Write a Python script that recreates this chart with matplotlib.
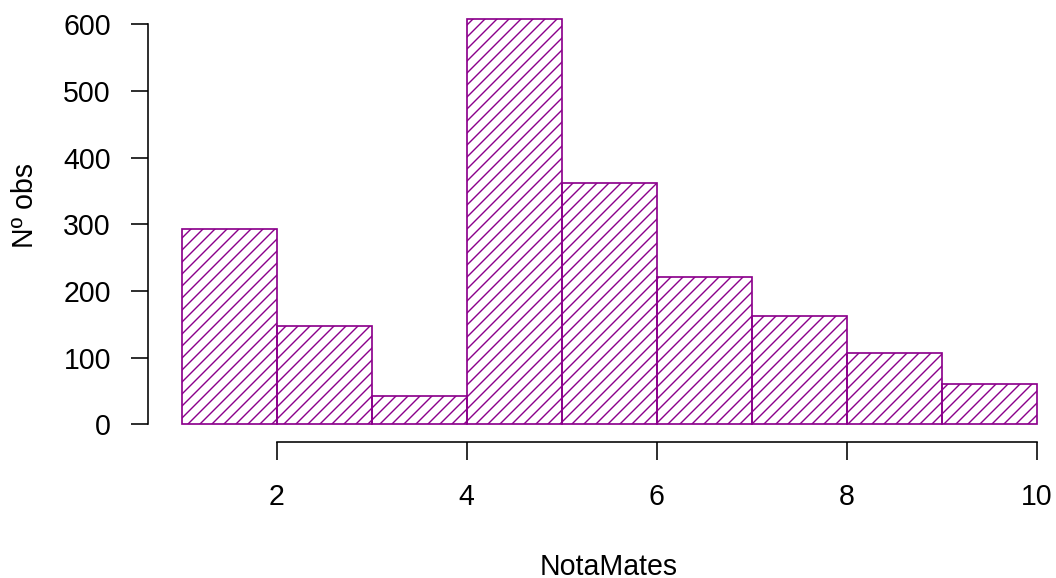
import numpy as np
import matplotlib
matplotlib.use("Agg")
import matplotlib.pyplot as plt

# histogram of NotaMates, bins of width 1 from 1 to 10
bin_left = [1, 2, 3, 4, 5, 6, 7, 8, 9]
counts = [293, 148, 42, 608, 362, 221, 163, 107, 61]
xticks = [2, 4, 6, 8, 10]
yticks = [0, 100, 200, 300, 400, 500, 600]

purple = "#8B008B"
plt.rcParams["font.family"] = ["Liberation Sans", "DejaVu Sans"]
plt.rcParams["hatch.color"] = purple
plt.rcParams["hatch.linewidth"] = 1.4

# 72 dpi so that one hatch cell = 72 px -> '//' gives a line every 12 px
fig = plt.figure(figsize=(1056 / 72, 578 / 72), dpi=72)
ax = fig.add_axes([147.5 / 1056, (578 - 441.8) / 578, 923.5 / 1056, 468.2 / 578])

ax.bar(bin_left, counts, width=1, align="edge", facecolor="none",
       edgecolor=purple, linewidth=1.7, hatch="//")

ax.set_xlim(0.64, 10.36)
ax.set_ylim(-26, 676)

for s in ["top", "right"]:
    ax.spines[s].set_visible(False)
ax.spines["left"].set_bounds(0, 600)
ax.spines["bottom"].set_bounds(2, 10)
for s in ["left", "bottom"]:
    ax.spines[s].set_linewidth(1.6)

ax.set_xticks(xticks)
ax.set_yticks(yticks)
ax.tick_params(axis="both", direction="out", length=17.5, width=1.6, labelsize=28.5)
ax.tick_params(axis="x", pad=23.5)
ax.tick_params(axis="y", pad=19)

fig.text(608.7 / 1056, 1 - 575 / 578, "NotaMates", fontsize=28.5,
         ha="center", va="baseline")
fig.text(33 / 1056, 1 - 206 / 578, "Nº obs", fontsize=28.5, rotation=90,
         rotation_mode="anchor", ha="center", va="baseline")

fig.savefig("out.png", dpi=72)
